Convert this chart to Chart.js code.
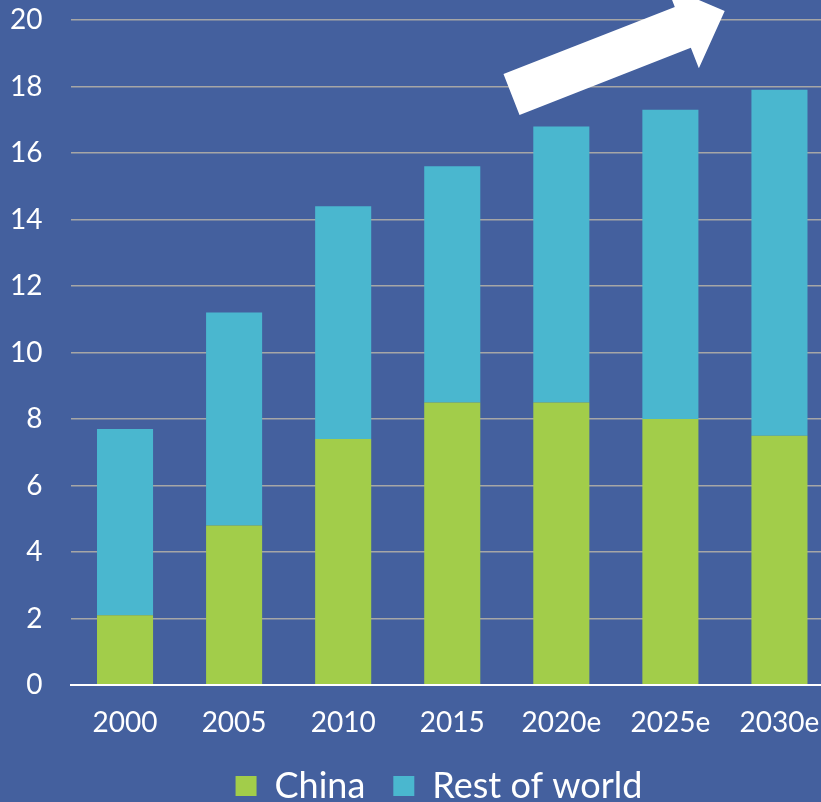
<!DOCTYPE html>
<html>
<head>
<meta charset="utf-8">
<script src="https://cdn.jsdelivr.net/npm/chart.js@4"></script>
<style>
    html, body { margin: 0; padding: 0; background: #44609E; overflow: hidden; }
    #wrap { width: 834px; height: 814px; }
</style>
</head>
<body>
<div id="wrap"><canvas id="chart" width="834" height="814"></canvas></div>
<script>
// Data
const years = ['2000', '2005', '2010', '2015', '2020e', '2025e', '2030e'];
const china = [2.1, 4.8, 7.4, 8.5, 8.5, 8.0, 7.5];
const restOfWorld = [5.6, 6.4, 7.0, 7.1, 8.3, 9.3, 10.4];
const yTicks = [0, 2, 4, 6, 8, 10, 12, 14, 16, 18, 20];

const FONT = "Lato, 'Open Sans', sans-serif";

// White trend arrow drawn on top of the plot
const arrowPlugin = {
    id: 'trendArrow',
    afterDraw(chart) {
        const ctx = chart.ctx;
        ctx.save();
        ctx.translate(511.5, 94.5);
        ctx.rotate(-21.4 * Math.PI / 180);
        ctx.beginPath();
        ctx.moveTo(0, -22);
        ctx.lineTo(184, -22);
        ctx.lineTo(184, -44);
        ctx.lineTo(229, 0);
        ctx.lineTo(184, 44);
        ctx.lineTo(184, 22);
        ctx.lineTo(0, 22);
        ctx.closePath();
        ctx.fillStyle = '#FFFFFF';
        ctx.fill();
        ctx.restore();
    }
};

// Legend sits a little right of centre in the original
const legendShift = {
    id: 'legendShift',
    afterLayout(chart) {
        if (chart.legend) {
            chart.legend.left += 22;
            chart.legend.right += 22;
        }
    }
};

new Chart(document.getElementById('chart').getContext('2d'), {
    type: 'bar',
    data: {
        labels: years,
        datasets: [
            {
                label: 'China',
                data: china,
                backgroundColor: '#A2CD4A',
                barPercentage: 0.514,
                categoryPercentage: 1
            },
            {
                label: 'Rest of world',
                data: restOfWorld,
                backgroundColor: '#4AB7CF',
                barPercentage: 0.514,
                categoryPercentage: 1
            }
        ]
    },
    options: {
        responsive: false,
        animation: false,
        layout: { padding: { top: 20, left: 0, right: 0, bottom: 0 } },
        scales: {
            x: {
                stacked: true,
                grid: { display: false },
                border: { color: '#FFFFFF', width: 2 },
                afterFit: function (scale) {
                    scale.paddingLeft = 0;
                    scale.paddingRight = 0;
                    scale.height = 55;
                },
                ticks: {
                    color: '#FFFFFF',
                    font: { family: FONT, size: 28, lineHeight: '2px' },
                    padding: 29
                }
            },
            y: {
                stacked: true,
                min: 0,
                max: 20,
                afterFit: function (scale) {
                    scale.width = 70.5;
                    scale.paddingTop = 0;
                    scale.paddingBottom = 0;
                },
                afterBuildTicks: function (scale) {
                    scale.ticks = yTicks.map(v => ({ value: v }));
                },
                border: { display: false },
                grid: {
                    drawTicks: false,
                    color: ctx => ctx.tick && ctx.tick.value === 0 ? '#FFFFFF' : '#A6A6A6',
                    lineWidth: ctx => ctx.tick && ctx.tick.value === 0 ? 2 : 1.5
                },
                ticks: {
                    color: '#FFFFFF',
                    font: { family: FONT, size: 28, lineHeight: 1 },
                    padding: 28,
                    callback: function (value) { return value; }
                }
            }
        },
        plugins: {
            legend: {
                position: 'bottom',
                labels: {
                    color: '#FFFFFF',
                    font: { family: FONT, size: 36, lineHeight: 1 },
                    boxWidth: 21,
                    boxHeight: 20,
                    padding: 28
                }
            },
            tooltip: { enabled: false }
        }
    },
    plugins: [arrowPlugin, legendShift]
});
</script>
</body>
</html>
